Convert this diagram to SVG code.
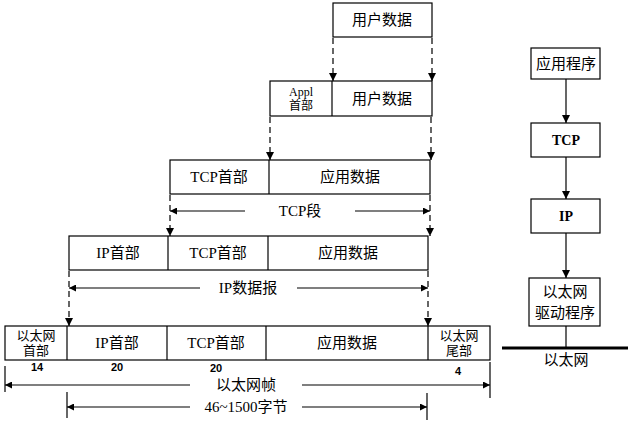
<svg xmlns="http://www.w3.org/2000/svg" width="632" height="424" viewBox="0 0 632 424">
<style>
.b{fill:#fff;stroke:#000;stroke-width:1.2}
.d{fill:none;stroke:#000;stroke-width:1.2}
.dash{fill:none;stroke:#000;stroke-width:1.2;stroke-dasharray:6,4}
.t{font-family:"Liberation Serif","Noto Sans CJK SC",serif;font-size:15px;text-anchor:middle;fill:#000}
.s{font-family:"Liberation Serif","Noto Sans CJK SC",serif;font-size:13px;text-anchor:middle;fill:#000}
.a{font-family:"Liberation Serif","Noto Sans CJK SC",serif;font-size:12px;text-anchor:middle;fill:#000}
.n{font-family:"Liberation Sans","Noto Sans CJK SC",sans-serif;font-size:11px;font-weight:bold;text-anchor:middle;fill:#000}
.bt{font-family:"Liberation Serif",serif;font-size:14px;font-weight:bold;text-anchor:middle;fill:#000}
</style>
<defs>
<marker id="ah" viewBox="0 0 10 10" refX="10" refY="5" markerWidth="12" markerHeight="7" orient="auto" markerUnits="userSpaceOnUse">
<path d="M0,0 L10,5 L0,10 Z" fill="#000"/>
</marker>
<marker id="ah2" viewBox="0 0 10 10" refX="10" refY="5" markerWidth="12" markerHeight="8" orient="auto" markerUnits="userSpaceOnUse">
<path d="M0,0 L10,5 L0,10 Z" fill="#000"/>
</marker>
</defs>

<g id="row1">
<rect class="b" x="333" y="3" width="99" height="34"/>
<text class="t" x="382" y="25">用户数据</text>
</g>

<g id="row2">
<rect class="b" x="270" y="81" width="162" height="35"/>
<line class="d" x1="332" y1="81" x2="332" y2="116"/>
<text class="a" x="301" y="96">Appl</text>
<text class="a" x="301" y="110">首部</text>
<text class="t" x="382" y="104">用户数据</text>
</g>

<g id="row3">
<rect class="b" x="170" y="160" width="260" height="34"/>
<line class="d" x1="269" y1="160" x2="269" y2="194"/>
<text class="t" x="219" y="182">TCP首部</text>
<text class="t" x="350" y="182">应用数据</text>
</g>

<g id="row4">
<rect class="b" x="69" y="236" width="359" height="34"/>
<line class="d" x1="168" y1="236" x2="168" y2="270"/>
<line class="d" x1="268" y1="236" x2="268" y2="270"/>
<text class="t" x="118" y="258">IP首部</text>
<text class="t" x="218" y="258">TCP首部</text>
<text class="t" x="348" y="258">应用数据</text>
</g>

<g id="row5">
<rect class="b" x="5" y="326" width="485" height="34"/>
<line class="d" x1="67" y1="326" x2="67" y2="360"/>
<line class="d" x1="167" y1="326" x2="167" y2="360"/>
<line class="d" x1="266" y1="326" x2="266" y2="360"/>
<line class="d" x1="428" y1="326" x2="428" y2="360"/>
<text class="s" x="36" y="340">以太网</text>
<text class="s" x="36" y="355">首部</text>
<text class="t" x="117" y="348">IP首部</text>
<text class="t" x="216" y="348">TCP首部</text>
<text class="t" x="347" y="348">应用数据</text>
<text class="s" x="459" y="340">以太网</text>
<text class="s" x="459" y="355">尾部</text>
<text class="n" x="37" y="371">14</text>
<text class="n" x="117" y="371">20</text>
<text class="n" x="216" y="372">20</text>
<text class="n" x="458" y="375">4</text>
</g>

<g id="stack-app">
<rect class="b" x="531" y="48" width="69" height="31"/>
<text class="t" x="566" y="69">应用程序</text>
</g>
<g id="stack-tcp">
<rect class="b" x="531" y="123" width="69" height="34"/>
<text class="bt" x="566" y="145">TCP</text>
</g>
<g id="stack-ip">
<rect class="b" x="531" y="199" width="69" height="34"/>
<text class="bt" x="566" y="221">IP</text>
</g>
<g id="stack-driver">
<rect class="b" x="529" y="278" width="71" height="48"/>
<text class="t" x="565" y="297">以太网</text>
<text class="t" x="565" y="318">驱动程序</text>
</g>
<g id="ethernet">
<line x1="502" y1="348" x2="628" y2="348" stroke="#000" stroke-width="3"/>
<text class="t" x="566" y="365">以太网</text>
</g>

<g id="connectors">
<line class="dash" x1="333" y1="38" x2="333" y2="81" marker-end="url(#ah2)"/>
<line class="dash" x1="432" y1="38" x2="432" y2="81" marker-end="url(#ah2)"/>
<line class="dash" x1="270" y1="117" x2="270" y2="160" marker-end="url(#ah2)"/>
<line class="dash" x1="431" y1="117" x2="431" y2="160" marker-end="url(#ah2)"/>
<line class="dash" x1="170" y1="195" x2="170" y2="236" marker-end="url(#ah2)"/>
<line class="dash" x1="430" y1="195" x2="430" y2="236" marker-end="url(#ah2)"/>
<line class="dash" x1="69" y1="271" x2="69" y2="326" marker-end="url(#ah2)"/>
<line class="dash" x1="428" y1="271" x2="428" y2="326" marker-end="url(#ah2)"/>

<line class="d" x1="245" y1="211" x2="170" y2="211" marker-end="url(#ah)"/>
<line class="d" x1="355" y1="211" x2="430" y2="211" marker-end="url(#ah)"/>
<text class="t" x="300" y="216">TCP段</text>

<line class="d" x1="200" y1="288" x2="69" y2="288" marker-end="url(#ah)"/>
<line class="d" x1="297" y1="288" x2="428" y2="288" marker-end="url(#ah)"/>
<text class="t" x="248" y="293">IP数据报</text>

<line class="d" x1="5" y1="366" x2="5" y2="392"/>
<line class="d" x1="490" y1="362" x2="490" y2="398"/>
<line class="d" x1="190" y1="385" x2="5" y2="385" marker-end="url(#ah)"/>
<line class="d" x1="302" y1="385" x2="490" y2="385" marker-end="url(#ah)"/>
<text class="t" x="246" y="390">以太网帧</text>

<line class="d" x1="67" y1="392" x2="67" y2="418"/>
<line class="d" x1="427" y1="393" x2="427" y2="420"/>
<line class="d" x1="190" y1="407" x2="67" y2="407" marker-end="url(#ah)"/>
<line class="d" x1="302" y1="407" x2="427" y2="407" marker-end="url(#ah)"/>
<text class="t" x="246" y="412">46~1500字节</text>

<line class="d" x1="566" y1="79" x2="566" y2="123" marker-end="url(#ah2)"/>
<line class="d" x1="566" y1="157" x2="566" y2="199" marker-end="url(#ah2)"/>
<line class="d" x1="566" y1="233" x2="566" y2="278" marker-end="url(#ah2)"/>
<line class="d" x1="566" y1="326" x2="566" y2="348"/>
</g>
</svg>
